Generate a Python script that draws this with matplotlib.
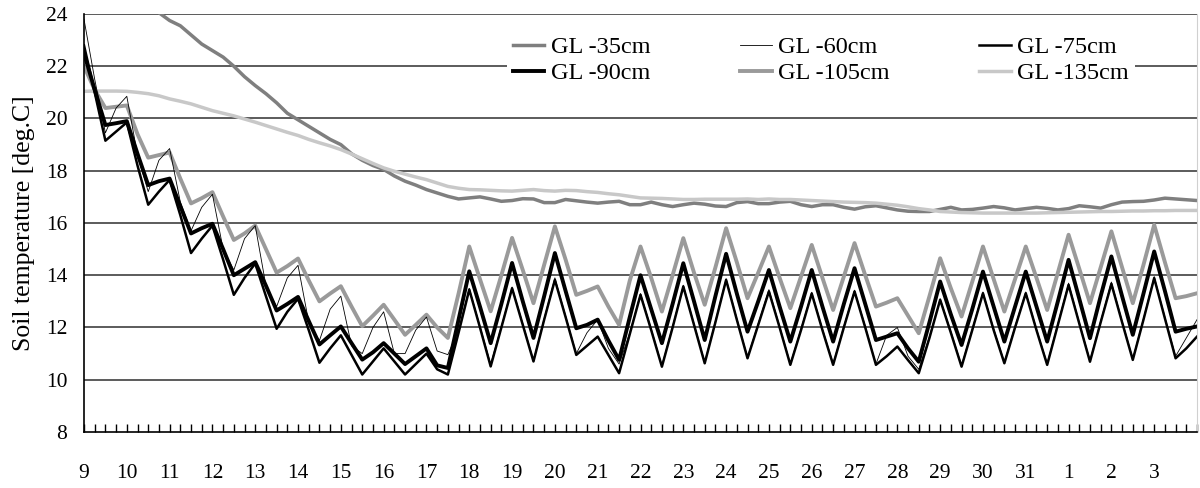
import numpy as np
import matplotlib
matplotlib.use('Agg')
import matplotlib.pyplot as plt
from matplotlib.ticker import MultipleLocator

# dias no eixo x (leituras a cada 6 horas)
dias = ['9', '10', '11', '12', '13', '14', '15', '16', '17', '18', '19', '20', '21',
        '22', '23', '24', '25', '26', '27', '28', '29', '30', '31', '1', '2', '3']

# temperatura do solo [deg.C], 4 leituras por dia
gl35 = [27.0, 26.6, 26.2, 25.8, 25.4, 25.0, 24.5, 24.05,
        23.75, 23.55, 23.2, 22.85, 22.6, 22.35, 22.0, 21.6,
        21.26, 20.95, 20.6, 20.2, 19.95, 19.7, 19.45, 19.2,
        19.0, 18.65, 18.4, 18.2, 18.05, 17.8, 17.6, 17.45,
        17.28, 17.15, 17.02, 16.92, 16.96, 17.0, 16.92, 16.83,
        16.86, 16.93, 16.92, 16.78, 16.78, 16.9, 16.85, 16.8,
        16.76, 16.8, 16.83, 16.7, 16.7, 16.8, 16.7, 16.63,
        16.7, 16.76, 16.72, 16.65, 16.63, 16.78, 16.82, 16.74,
        16.74, 16.8, 16.83, 16.7, 16.63, 16.7, 16.7, 16.6,
        16.53, 16.62, 16.66, 16.58, 16.5, 16.45, 16.44, 16.44,
        16.52, 16.6, 16.5, 16.52, 16.57, 16.63, 16.58, 16.5,
        16.55, 16.6, 16.56, 16.5, 16.55, 16.66, 16.62, 16.57,
        16.7, 16.8, 16.82, 16.83, 16.88, 16.95, 16.92, 16.89,
        16.86]

gl60 = [23.8, 21.5, 19.45, 20.4, 20.85, 18.6, 17.2, 18.4,
        18.85, 16.8, 15.7, 16.6, 17.1, 15.0, 14.2, 15.4,
        15.9, 13.6, 12.8, 13.9, 14.38, 12.2, 11.5, 12.7,
        13.2, 11.3, 11.0, 12.0, 12.6, 11.0, 11.0, 11.9,
        12.4, 11.1, 10.96, 11.9, 13.5, 12.05, 10.6, 12.05,
        13.55, 12.15, 10.75, 12.35, 13.9, 12.45, 11.0, 11.8,
        12.3, 11.2, 10.6, 11.8, 13.3, 11.95, 10.55, 12.05,
        13.62, 12.15, 10.68, 12.25, 13.87, 12.35, 10.87, 12.15,
        13.45, 12.05, 10.62, 11.95, 13.35, 11.95, 10.62, 12.05,
        13.43, 12.05, 10.6, 11.7, 12.0, 10.9, 10.4, 11.65,
        13.1, 11.85, 10.55, 11.95, 13.36, 11.95, 10.68, 12.05,
        13.36, 11.95, 10.62, 12.15, 13.7, 12.2, 10.74, 12.25,
        13.74, 12.25, 10.81, 12.35, 13.95, 12.4, 10.9, 11.6,
        12.3]

gl75 = [22.8, 21.0, 19.15, 19.5, 19.85, 18.2, 16.7, 17.2,
        17.65, 16.3, 14.85, 15.4, 15.9, 14.6, 13.25, 13.9,
        14.45, 13.2, 11.95, 12.6, 13.1, 11.9, 10.65, 11.2,
        11.7, 10.95, 10.2, 10.7, 11.2, 10.7, 10.2, 10.6,
        11.0, 10.4, 10.2, 11.8, 13.45, 12.0, 10.51, 12.0,
        13.5, 12.1, 10.7, 12.3, 13.82, 12.4, 10.95, 11.3,
        11.65, 10.95, 10.25, 11.75, 13.25, 11.9, 10.5, 12.0,
        13.57, 12.1, 10.63, 12.2, 13.82, 12.3, 10.82, 12.1,
        13.38, 12.0, 10.57, 11.9, 13.3, 11.9, 10.57, 12.0,
        13.38, 12.0, 10.57, 10.9, 11.27, 10.75, 10.25, 11.6,
        13.06, 11.8, 10.5, 11.9, 13.31, 11.9, 10.63, 12.0,
        13.31, 11.9, 10.57, 12.1, 13.63, 12.15, 10.69, 12.2,
        13.67, 12.2, 10.76, 12.3, 13.89, 12.35, 10.82, 11.2,
        11.65]

gl90 = [22.5, 21.1, 19.75, 19.82, 19.9, 18.65, 17.45, 17.6,
        17.7, 16.65, 15.6, 15.8, 15.97, 15.0, 14.0, 14.25,
        14.5, 13.6, 12.65, 12.9, 13.17, 12.25, 11.35, 11.7,
        12.04, 11.4, 10.77, 11.05, 11.4, 11.0, 10.6, 10.9,
        11.2, 10.55, 10.45, 12.3, 14.15, 12.8, 11.4, 12.9,
        14.47, 13.0, 11.6, 13.2, 14.85, 13.4, 11.97, 12.1,
        12.3, 11.5, 10.76, 12.4, 14.0, 12.7, 11.4, 12.9,
        14.46, 13.0, 11.52, 13.2, 14.82, 13.3, 11.84, 13.0,
        14.2, 12.8, 11.46, 12.8, 14.2, 12.8, 11.46, 12.9,
        14.27, 12.9, 11.52, 11.65, 11.78, 11.2, 10.69, 12.2,
        13.76, 12.5, 11.33, 12.7, 14.14, 12.8, 11.46, 12.8,
        14.14, 12.8, 11.46, 13.0, 14.59, 13.1, 11.59, 13.2,
        14.72, 13.2, 11.72, 13.3, 14.91, 13.4, 11.84, 11.95,
        12.04]

gl105 = [22.0, 21.1, 20.4, 20.45, 20.5, 19.4, 18.5, 18.6,
         18.7, 17.7, 16.75, 16.95, 17.18, 16.25, 15.35, 15.6,
         15.9, 15.0, 14.1, 14.35, 14.64, 13.8, 13.0, 13.3,
         13.58, 12.8, 12.05, 12.45, 12.87, 12.3, 11.72, 12.1,
         12.49, 12.0, 11.6, 13.3, 15.1, 13.85, 12.62, 14.0,
         15.43, 14.2, 12.93, 14.4, 15.87, 14.6, 13.25, 13.4,
         13.57, 12.8, 12.1, 13.8, 15.1, 13.9, 12.61, 14.0,
         15.42, 14.1, 12.87, 14.3, 15.8, 14.5, 13.12, 14.1,
         15.1, 13.9, 12.74, 13.95, 15.16, 13.9, 12.67, 13.95,
         15.23, 14.0, 12.8, 12.95, 13.12, 12.45, 11.78, 13.2,
         14.65, 13.5, 12.42, 13.75, 15.1, 13.85, 12.61, 13.85,
         15.1, 13.9, 12.67, 14.1, 15.55, 14.25, 12.93, 14.3,
         15.68, 14.3, 12.93, 14.4, 15.93, 14.5, 13.12, 13.2,
         13.31]

gl135 = [21.04, 21.05, 21.05, 21.05, 21.04, 21.0, 20.95, 20.87,
         20.75, 20.66, 20.56, 20.43, 20.3, 20.2, 20.1, 19.98,
         19.86, 19.73, 19.6, 19.47, 19.35, 19.2, 19.07, 18.95,
         18.81, 18.64, 18.46, 18.28, 18.11, 17.98, 17.87, 17.76,
         17.66, 17.53, 17.4, 17.33, 17.28, 17.27, 17.25, 17.23,
         17.22, 17.25, 17.28, 17.24, 17.22, 17.25, 17.24, 17.2,
         17.17, 17.12, 17.08, 17.02, 16.96, 16.95, 16.94, 16.92,
         16.9, 16.9, 16.91, 16.91, 16.91, 16.91, 16.92, 16.9,
         16.92, 16.9, 16.9, 16.88, 16.86, 16.84, 16.82, 16.8,
         16.79, 16.78, 16.76, 16.72, 16.68, 16.62, 16.55, 16.5,
         16.44, 16.42, 16.4, 16.39, 16.38, 16.38, 16.38, 16.38,
         16.38, 16.38, 16.39, 16.4, 16.41, 16.42, 16.43, 16.44,
         16.44, 16.45, 16.46, 16.46, 16.47, 16.47, 16.48, 16.48,
         16.48]

# tempo em dias desde o dia 9 (passo de 6 horas)
t = np.arange(len(gl35)) / 4

plt.rcParams['font.family'] = ['Liberation Serif', 'DejaVu Serif']

fig = plt.figure(figsize=(12, 4.88), dpi=100)
ax = fig.add_axes([0.07, 0.1148, 0.9275, 0.8565])

l35, = ax.plot(t, gl35, color='#7f7f7f', lw=2.5, label='GL -35cm')
l135, = ax.plot(t, gl135, color='#c8c8c8', lw=2.5, label='GL -135cm')
l105, = ax.plot(t, gl105, color='#9a9a9a', lw=2.8, label='GL -105cm')
l90, = ax.plot(t, gl90, color='black', lw=2.8, label='GL -90cm')
l75, = ax.plot(t, gl75, color='black', lw=1.8, label='GL -75cm')
l60, = ax.plot(t, gl60, color='black', lw=0.6, label='GL -60cm')

ax.set_xlim(0, 26)
ax.set_ylim(8, 24)
ax.set_yticks(range(8, 25, 2))
ax.set_xticks(range(len(dias)))
ax.set_xticklabels(dias)
ax.xaxis.set_minor_locator(MultipleLocator(0.25))

for y in range(10, 25, 2):
    ax.axhline(y, color='#404040', lw=1.2, zorder=0)

ax.tick_params(axis='x', which='both', direction='in', length=6, width=1,
               pad=23, labelsize=15.5)
ax.tick_params(axis='y', length=0, pad=12, labelsize=15.5)

ax.spines['top'].set_visible(False)
ax.spines['right'].set_color('#d0d0d0')
ax.spines['left'].set_linewidth(1.2)
ax.spines['bottom'].set_linewidth(1.2)

ax.set_ylabel('Soil temperature [deg.C]', fontsize=18.5, labelpad=8)

# legenda em 2 linhas x 3 colunas
handles = [l35, l90, l60, l105, l75, l135]
leg = ax.legend(handles=handles, ncol=3, loc='upper center',
                bbox_to_anchor=(0.662, 0.99), fontsize=17.5, frameon=True,
                fancybox=False, edgecolor='none', facecolor='white',
                framealpha=1, handlelength=1.3, handletextpad=0.25,
                columnspacing=3.7, labelspacing=0.15, borderpad=0.25)

plt.savefig('out.png', dpi=100)
